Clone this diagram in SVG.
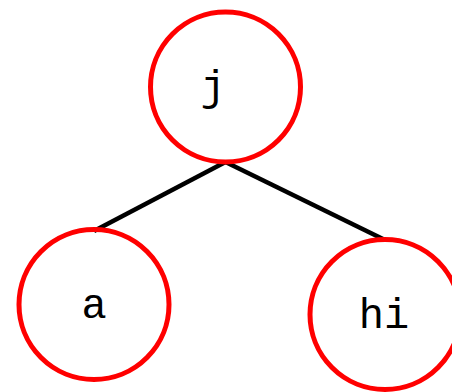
<svg xmlns="http://www.w3.org/2000/svg" width="452" height="392" viewBox="0 0 452 392">
<style>
.node circle{fill:none;stroke:#ff0000;stroke-width:5}
.node text{font-family:"Liberation Mono","Courier New",monospace;font-size:42px;text-anchor:middle;fill:#000}
.edges line{stroke:#000;stroke-width:4.5;stroke-linecap:butt}
</style>
<rect width="452" height="392" fill="#fff"/>
<g id="edges" class="edges">
<line x1="225.5" y1="162" x2="94" y2="231"/>
<line x1="225.5" y1="162" x2="385" y2="240"/>
</g>
<g id="node-j" class="node">
<circle cx="225.5" cy="87" r="75"/>
<text x="213" y="100">j</text>
</g>
<g id="node-a" class="node">
<circle cx="94" cy="304.5" r="75"/>
<text x="94" y="318">a</text>
</g>
<g id="node-hi" class="node">
<circle cx="385" cy="314.5" r="75"/>
<text x="384" y="328">hi</text>
</g>
</svg>
